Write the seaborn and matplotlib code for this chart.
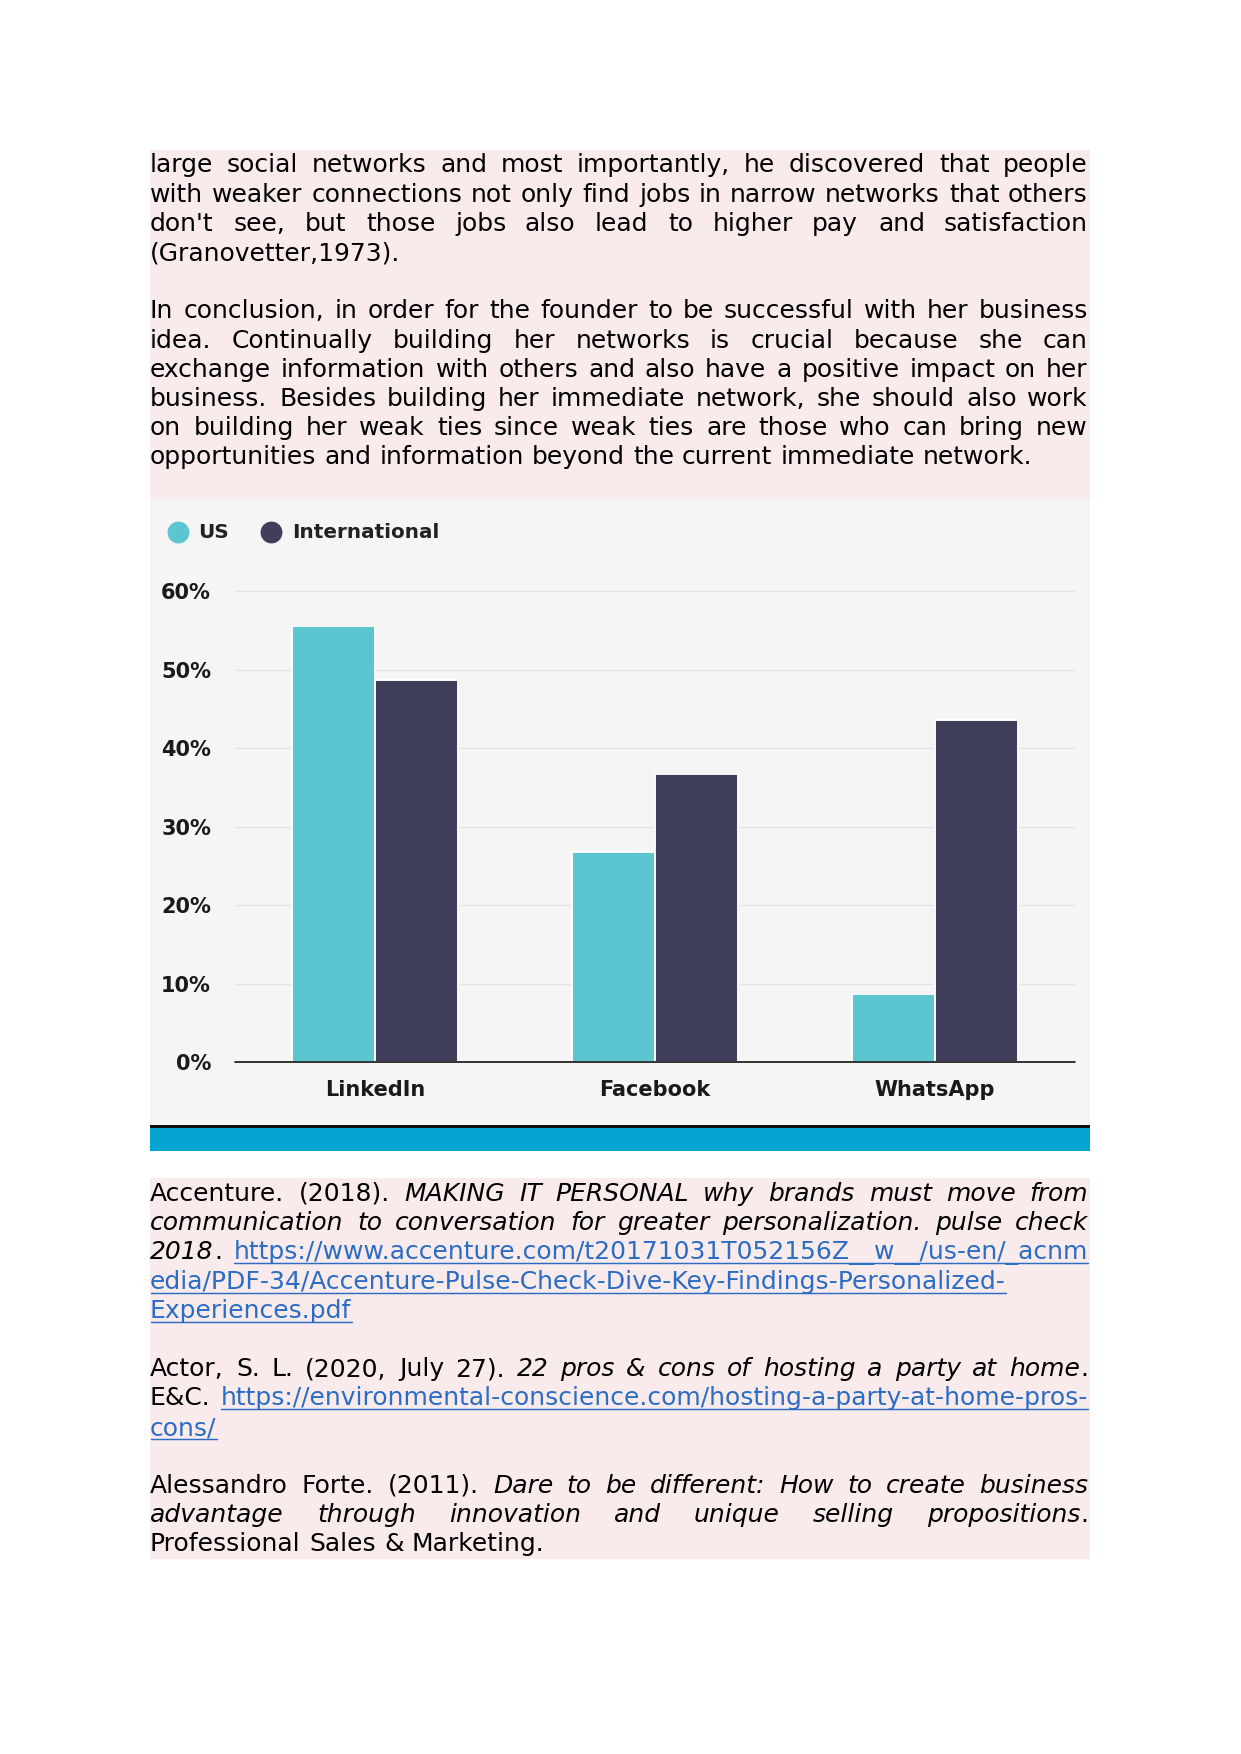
import matplotlib
matplotlib.use("Agg")
import matplotlib.pyplot as plt
import seaborn as sns
import pandas as pd
from matplotlib.lines import Line2D
from matplotlib.patches import Rectangle
from matplotlib.font_manager import FontProperties

# ---------------- data ----------------
platforms = ["LinkedIn", "Facebook", "WhatsApp"]
groups = ["US", "International"]
us_values = [55.6, 26.7, 8.7]
intl_values = [48.7, 36.7, 43.6]
ytick_values = [0, 10, 20, 30, 40, 50, 60]
ytick_labels = [f"{v}%" for v in ytick_values]

# body text (markup: *italic*, [link])
para1 = [
    "large social networks and most importantly, he discovered that people",
    "with weaker connections not only find jobs in narrow networks that others",
    "don't see, but those jobs also lead to higher pay and satisfaction",
    "(Granovetter,1973).",
]
para2 = [
    "In conclusion, in order for the founder to be successful with her business",
    "idea. Continually building her networks is crucial because she can",
    "exchange information with others and also have a positive impact on her",
    "business. Besides building her immediate network, she should also work",
    "on building her weak ties since weak ties are those who can bring new",
    "opportunities and information beyond the current immediate network.",
]
ref1 = [
    "Accenture. (2018). *MAKING IT PERSONAL why brands must move from*",
    "*communication to conversation for greater personalization. pulse check*",
    "*2018*. [https://www.accenture.com/t20171031T052156Z__w__/us-en/_acnm]",
    "[edia/PDF-34/Accenture-Pulse-Check-Dive-Key-Findings-Personalized-]",
    "[Experiences.pdf]",
]
ref2 = [
    "Actor, S. L. (2020, July 27). *22 pros & cons of hosting a party at home*.",
    "E&C. [https://environmental-conscience.com/hosting-a-party-at-home-pros-]",
    "[cons/]",
]
ref3 = [
    "Alessandro Forte. (2011). *Dare to be different: How to create business*",
    "*advantage through innovation and unique selling propositions*.",
    "Professional Sales & Marketing.",
]

# ---------------- style ----------------
W, H, DPI = 1241, 1754, 150
PINK = "#F9EBEB"
CHART_BG = "#F5F5F5"
TEAL = "#5BC6D0"
NAVY = "#3F3F5B"
STRIP = "#05A5D1"
LINK = "#2B6CC4"

sns.set_theme(style="white")
plt.rcParams["font.family"] = ["DejaVu Sans"]

fig = plt.figure(figsize=(W / DPI, H / DPI), dpi=DPI)
fig.patch.set_facecolor("white")


def fx(px):
    return px / W


def fy(py):
    return 1 - py / H


def rect(x0, y0, x1, y1, color, z=0):
    fig.add_artist(Rectangle((fx(x0), fy(y1)), fx(x1) - fx(x0), fy(y0) - fy(y1),
                             transform=fig.transFigure, facecolor=color,
                             edgecolor="none", zorder=z))


# backgrounds
rect(150, 150, 1090, 499, PINK)
rect(150, 499, 1090, 1125, CHART_BG)
rect(150, 1124.5, 1090, 1127.5, "#111111", 1)
rect(150, 1127.5, 1090, 1151, STRIP)
rect(150, 1178, 1090, 1559, PINK)

# ---------------- chart ----------------
Y0, PER10 = 1062.0, 78.5
YMAX = 63
top_px = Y0 - YMAX / 10 * PER10
ax = fig.add_axes([fx(235), fy(Y0), (1075 - 235) / W, (Y0 - top_px) / H])
ax.set_facecolor("none")

df = pd.DataFrame({
    "platform": platforms * 2,
    "group": [groups[0]] * len(platforms) + [groups[1]] * len(platforms),
    "value": us_values + intl_values,
})
sns.barplot(data=df, x="platform", y="value", hue="group", order=platforms,
            hue_order=groups, palette=[TEAL, NAVY], saturation=1, width=0.59,
            edgecolor="white", linewidth=0.9, legend=False, ax=ax, zorder=3)

ax.set_xlim(-0.5, 2.5)
ax.set_ylim(0, YMAX)
ax.set_yticks(ytick_values)
ax.set_yticklabels(ytick_labels, fontsize=10, fontweight="bold", color="#1A1A1A")
for lab in ax.get_xticklabels():
    lab.set_fontsize(10)
    lab.set_fontweight("bold")
    lab.set_color("#1A1A1A")
ax.tick_params(axis="y", length=0, pad=11.5)
ax.tick_params(axis="x", length=0, pad=8.5)
ax.grid(axis="y", color="#E3E3E3", linewidth=0.6)
ax.grid(axis="x", visible=False)
ax.set_axisbelow(True)
for s in ax.spines.values():
    s.set_visible(False)
ax.axhline(0, color="#111111", linewidth=0.8, zorder=6, clip_on=False)
ax.set_xlabel("")
ax.set_ylabel("")

handles = [Line2D([0], [0], marker="o", linestyle="none", markersize=10.5,
                  markerfacecolor=c, markeredgecolor="none") for c in (TEAL, NAVY)]
leg = ax.legend(handles, groups, loc="center left",
                bbox_to_anchor=(fx(167), fy(533)), bbox_transform=fig.transFigure,
                ncol=2, frameon=False, borderpad=0, borderaxespad=0,
                handlelength=1.05, handletextpad=0.5, columnspacing=1.6,
                prop={"weight": "bold", "size": 9.6})
for t in leg.get_texts():
    t.set_color("#222222")

# ---------------- justified text ----------------
renderer = fig.canvas.get_renderer()
FS = 12
PROPS = {
    "n": FontProperties(family="DejaVu Sans", size=FS),
    "i": FontProperties(family="DejaVu Sans", style="italic", size=FS),
    "l": FontProperties(family="DejaVu Sans", size=FS),
}
COLORS = {"n": "black", "i": "black", "l": LINK}


def twidth(s, st):
    w, h, d = renderer.get_text_width_height_descent(s, PROPS[st], ismath=False)
    return w


SPACE = twidth("a a", "n") - twidth("aa", "n")


def parse(line):
    words = []
    cur = []
    buf = ""
    state = "n"
    for ch in line:
        if ch in "*[] ":
            if buf:
                cur.append((buf, state))
                buf = ""
            if ch == "*":
                state = "n" if state == "i" else "i"
            elif ch == "[":
                state = "l"
            elif ch == "]":
                state = "n"
            else:
                if cur:
                    words.append(cur)
                cur = []
        else:
            buf += ch
    if buf:
        cur.append((buf, state))
    if cur:
        words.append(cur)
    return words


X0, X1 = 150.5, 1088.0
PITCH = 29.2


def draw_paragraph(lines, first_baseline):
    for k, line in enumerate(lines):
        words = parse(line)
        base = round(first_baseline + k * PITCH)
        widths = [sum(twidth(t, st) for t, st in w) for w in words]
        last = (k == len(lines) - 1) or len(words) == 1
        if last:
            gap = SPACE
        else:
            gap = (X1 - X0 - sum(widths)) / (len(words) - 1)
        x = X0
        for w, ww in zip(words, widths):
            for t, st in w:
                tw = twidth(t, st)
                fig.text(fx(round(x)), fy(base), t, fontproperties=PROPS[st],
                         color=COLORS[st], ha="left", va="baseline", zorder=5)
                if st == "l":
                    fig.add_artist(Line2D([fx(x), fx(x + tw)], [fy(base + 3.5)] * 2,
                                          transform=fig.transFigure, color=LINK,
                                          linewidth=0.7, zorder=5))
                x += tw
            x += gap


draw_paragraph(para1, 172.3)
draw_paragraph(para2, 172.3 + 5 * PITCH)
draw_paragraph(ref1, 1201.0)
draw_paragraph(ref2, 1201.0 + 6 * PITCH)
draw_paragraph(ref3, 1201.0 + 10 * PITCH)

fig.savefig("out.png", dpi=DPI, facecolor="white")
